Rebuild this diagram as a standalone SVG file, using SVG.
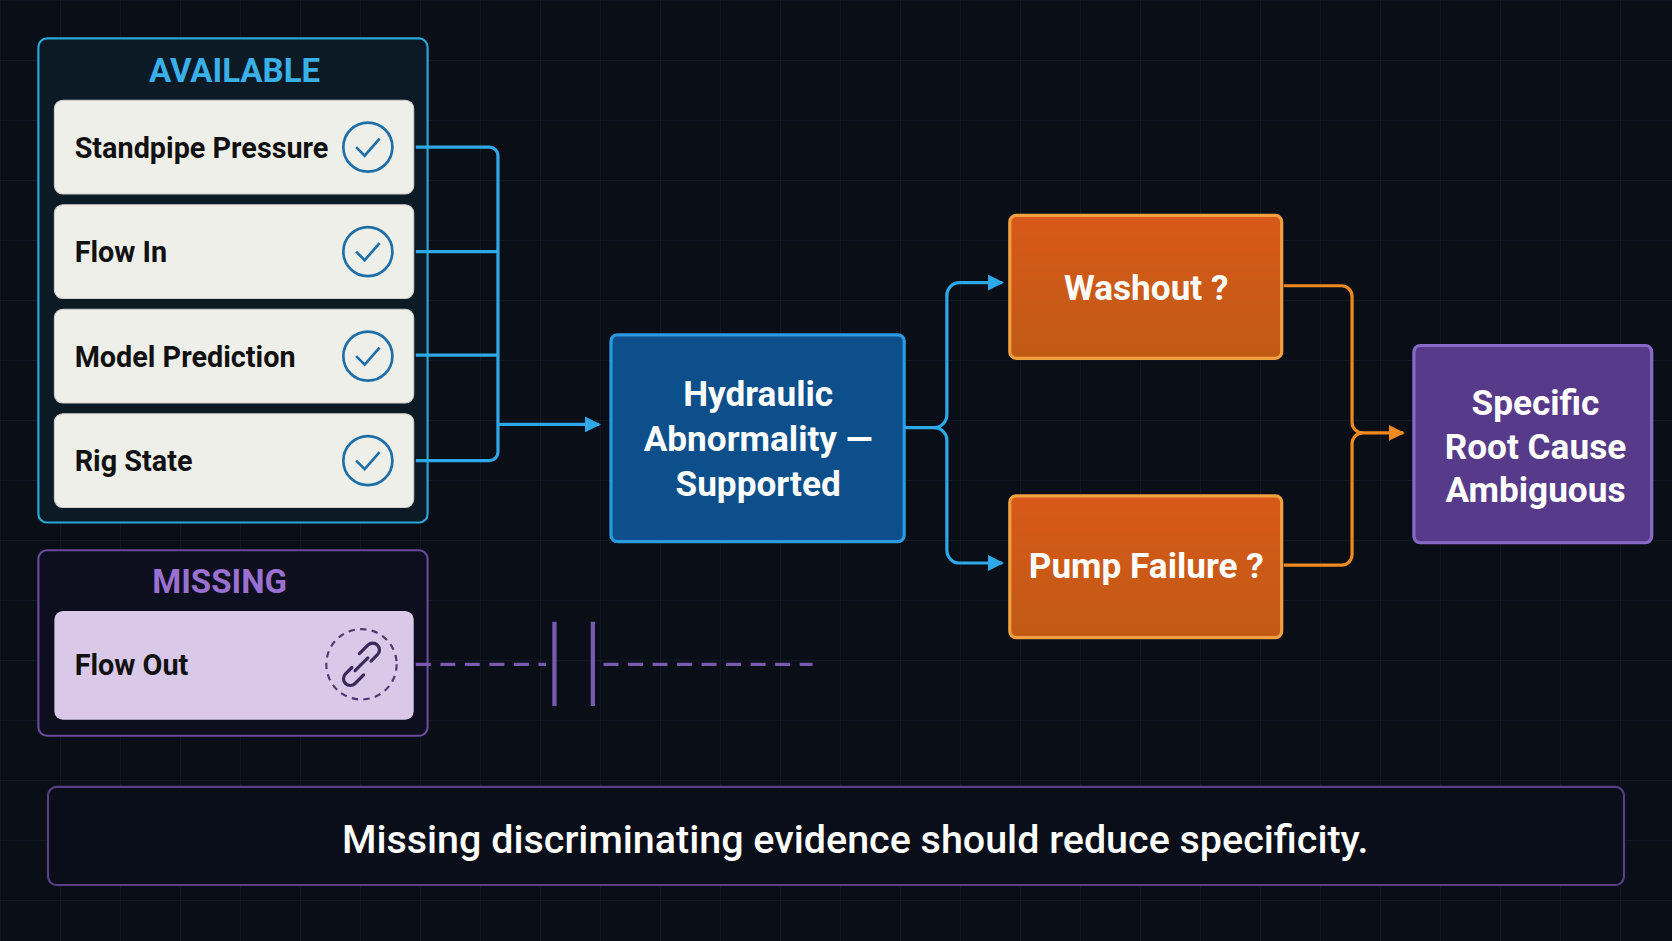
<svg xmlns="http://www.w3.org/2000/svg" width="1672" height="941" viewBox="0 0 1672 941">
<defs>
<pattern id="grid" width="60" height="60" patternUnits="userSpaceOnUse"><path d="M60 0H0V60" fill="none" stroke="#1a2230" stroke-width="1"/></pattern>
<linearGradient id="og" x1="0" y1="0" x2="0" y2="1"><stop offset="0" stop-color="#d8591a"/><stop offset="1" stop-color="#c05a14"/></linearGradient>
<marker id="ab" viewBox="0 0 10 10" refX="9" refY="5" markerWidth="5" markerHeight="5" orient="auto"><path d="M0 0L10 5L0 10z" fill="#2ea8e8"/></marker>
<marker id="ao" viewBox="0 0 10 10" refX="9" refY="5" markerWidth="5" markerHeight="5" orient="auto"><path d="M0 0L10 5L0 10z" fill="#f08a20"/></marker>
<style>
text{font-family:"Liberation Sans Narrow","Roboto","Liberation Sans",sans-serif;font-weight:bold}
.item{fill:#efefea;stroke:#d0d0cc}
.it{font-size:27px;fill:#111}
.chk{fill:none;stroke:#1e6fa8;stroke-width:2.5}
.wt{fill:#fff;font-size:33px;text-anchor:middle}
.cb{fill:none;stroke:#2ea8e8;stroke-width:3}
.co{fill:none;stroke:#f08a20;stroke-width:3}
</style>
</defs>
<rect width="1672" height="941" fill="#0a0f17"/>
<rect width="1672" height="941" fill="url(#grid)"/>
<g transform="scale(1.0663)">
<g id="available">
<rect x="36" y="36" width="365" height="454" rx="8" fill="#0c1a26" stroke="#2aa8d8" stroke-width="2"/>
<text x="220" y="77" font-size="31" fill="#3ab0e8" text-anchor="middle">AVAILABLE</text>
</g>
<g id="n-standpipe"><rect class="item" x="51" y="94" width="337" height="88" rx="8"/><text class="it" x="70" y="148">Standpipe Pressure</text><circle class="chk" cx="345" cy="138" r="23"/><path class="chk" d="M334 138l8 8l14-16" stroke-width="3"/></g>
<g id="n-flowin"><rect class="item" x="51" y="192" width="337" height="88" rx="8"/><text class="it" x="70" y="246">Flow In</text><circle class="chk" cx="345" cy="236" r="23"/><path class="chk" d="M334 236l8 8l14-16" stroke-width="3"/></g>
<g id="n-model"><rect class="item" x="51" y="290" width="337" height="88" rx="8"/><text class="it" x="70" y="344">Model Prediction</text><circle class="chk" cx="345" cy="334" r="23"/><path class="chk" d="M334 334l8 8l14-16" stroke-width="3"/></g>
<g id="n-rig"><rect class="item" x="51" y="388" width="337" height="88" rx="8"/><text class="it" x="70" y="442">Rig State</text><circle class="chk" cx="345" cy="432" r="23"/><path class="chk" d="M334 432l8 8l14-16" stroke-width="3"/></g>
<g id="missing">
<rect x="36" y="516" width="365" height="174" rx="8" fill="#0e0f1e" stroke="#6a4a9a" stroke-width="2"/>
<text x="206" y="556" font-size="31" fill="#9a70d0" text-anchor="middle">MISSING</text>
</g>
<g id="n-flowout"><rect x="51" y="573" width="337" height="102" rx="8" fill="#d9c8e8"/><text class="it" x="70" y="633">Flow Out</text>
<circle cx="339" cy="623" r="33" fill="none" stroke="#4a3a70" stroke-width="2" stroke-dasharray="6 5"/>
<g fill="none" stroke="#3a2a5a" stroke-width="3" stroke-linecap="round"><path d="M330 626l-6 6a6 6 0 0 0 9 9l8-8"/><path d="M348 620l6-6a6 6 0 0 0-9-9l-8 8"/><path d="M333 629l12-12"/></g></g>
<g id="n-hydraulic"><rect x="573" y="314" width="275" height="194" rx="6" fill="#0c4f8a" stroke="#2a9be0" stroke-width="3"/>
<text class="wt" x="711" y="381">Hydraulic</text><text class="wt" x="711" y="423">Abnormality —</text><text class="wt" x="711" y="465">Supported</text></g>
<g id="n-washout"><rect x="947" y="202" width="255" height="134" rx="6" fill="url(#og)" stroke="#f0a040" stroke-width="3"/><text class="wt" x="1075" y="281">Washout ?</text></g>
<g id="n-pump"><rect x="947" y="465" width="255" height="133" rx="6" fill="url(#og)" stroke="#f0a040" stroke-width="3"/><text class="wt" x="1075" y="542">Pump Failure ?</text></g>
<g id="n-specific"><rect x="1326" y="324" width="223" height="185" rx="6" fill="#573b8a" stroke="#8a6ac8" stroke-width="3"/>
<text class="wt" x="1440" y="389">Specific</text><text class="wt" x="1440" y="430">Root Cause</text><text class="wt" x="1440" y="471">Ambiguous</text></g>
<g id="n-note"><rect x="45" y="738" width="1478" height="92" rx="8" fill="#0a0e18" stroke="#5a3f88" stroke-width="2"/>
<text x="802" y="800" font-size="37" fill="#fff" text-anchor="middle" font-weight="normal" style="font-weight:500">Missing discriminating evidence should reduce specificity.</text></g>
<g id="connectors">
<path class="cb" d="M390 138H459a8 8 0 0 1 8 8V424a8 8 0 0 1-8 8H390M390 236H467M390 333H467"/>
<path class="cb" d="M467 398H562" marker-end="url(#ab)"/>
<path class="cb" d="M848 401H876a12 12 0 0 0 12-12V277a12 12 0 0 1 12-12H940" marker-end="url(#ab)"/>
<path class="cb" d="M876 401a12 12 0 0 1 12 12V516a12 12 0 0 0 12 12H940" marker-end="url(#ab)"/>
<path class="co" d="M1204 268H1258a10 10 0 0 1 10 10V396a10 10 0 0 0 10 10H1316" marker-end="url(#ao)"/>
<path class="co" d="M1204 530H1258a10 10 0 0 0 10-10V416a10 10 0 0 1 10-10"/>
<path d="M390 623H512M566 623H762" fill="none" stroke="#7a5ab0" stroke-width="3" stroke-dasharray="14 9"/>
<path d="M520 583V662M556 583V662" stroke="#7a5ab0" stroke-width="4"/>
</g>
</g>
</svg>
